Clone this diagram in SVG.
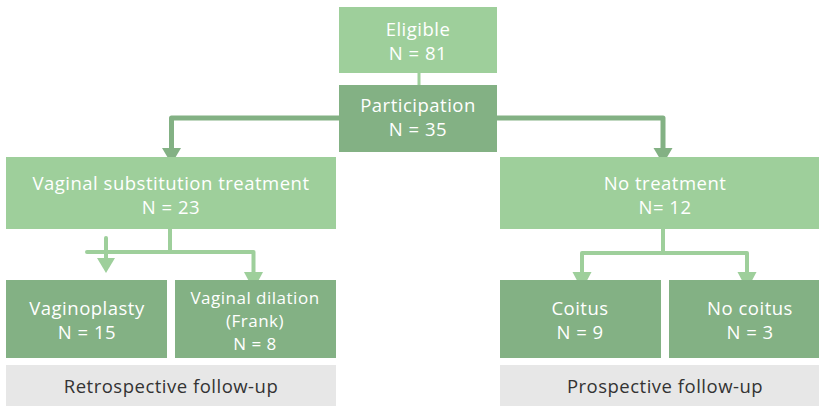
<svg xmlns="http://www.w3.org/2000/svg" width="819" height="406" viewBox="0 0 819 406">
  <style>
    .light { fill: #9ecf9b; }
    .dark { fill: #83b184; }
    .grey { fill: #e7e7e7; }
    .t { font-family: "Open Sans", "Liberation Sans", sans-serif; font-size: 18.5px; letter-spacing: 0.5px; fill: #ffffff; text-anchor: middle; }
    .t3 { font-size: 17px; }
    .g { font-family: "Open Sans", "Liberation Sans", sans-serif; font-size: 18.5px; letter-spacing: 0.5px; fill: #333333; text-anchor: middle; }
    .lnD { stroke: #83b184; stroke-width: 5; fill: none; stroke-linejoin: round; }
    .lnL { stroke: #9ecf9b; stroke-width: 4; fill: none; stroke-linejoin: round; stroke-linecap: round; }
    .ahD { fill: #83b184; }
    .ahL { fill: #9ecf9b; }
  </style>

  <!-- connectors -->
  <g id="connectors">
    <line x1="419" y1="72" x2="419" y2="86" stroke="#9ecf9b" stroke-width="3"/>
    <polyline class="lnD" points="339,118 171.5,118 171.5,150"/>
    <polygon class="ahD" points="162,148 181,148 171.5,164"/>
    <polyline class="lnD" points="497,118 663,118 663,150"/>
    <polygon class="ahD" points="653.5,148 672.5,148 663,164"/>

    <polyline class="lnL" points="170,229 170,252"/>
    <polyline class="lnL" points="87,252 253.5,252 253.5,273"/>
    <line class="lnL" x1="106" y1="238" x2="106" y2="259"/>
    <polygon class="ahL" points="97,258 115,258 106,273"/>
    <polygon class="ahL" points="244,272 263,272 253.5,290"/>

    <polyline class="lnL" points="663,229 663,253"/>
    <polyline class="lnL" points="582,273 582,253 747,253 747,273"/>
    <polygon class="ahL" points="572.5,272 591.5,272 582,290"/>
    <polygon class="ahL" points="737.5,272 756.5,272 747,290"/>
  </g>

  <g id="eligible">
    <rect class="light" x="339" y="7" width="158" height="66"/>
    <text class="t" x="418" y="36">Eligible</text>
    <text class="t" x="418" y="60">N = 81</text>
  </g>

  <g id="participation">
    <rect class="dark" x="339" y="85" width="158" height="67"/>
    <text class="t" x="418" y="112">Participation</text>
    <text class="t" x="418" y="136">N = 35</text>
  </g>

  <g id="substitution">
    <rect class="light" x="6" y="157" width="330" height="72"/>
    <text class="t" x="171" y="190">Vaginal substitution treatment</text>
    <text class="t" x="171" y="214">N = 23</text>
  </g>

  <g id="no-treatment">
    <rect class="light" x="500" y="157" width="319" height="72"/>
    <text class="t" x="665" y="190">No treatment</text>
    <text class="t" x="665" y="214">N= 12</text>
  </g>

  <g id="vaginoplasty">
    <rect class="dark" x="6" y="280" width="161" height="78"/>
    <text class="t" x="87" y="315">Vaginoplasty</text>
    <text class="t" x="87" y="339">N = 15</text>
  </g>

  <g id="dilation">
    <rect class="dark" x="175" y="280" width="161" height="78"/>
    <text class="t t3" x="255" y="304">Vaginal dilation</text>
    <text class="t t3" x="255" y="327">(Frank)</text>
    <text class="t t3" x="255" y="350">N = 8</text>
  </g>

  <g id="coitus">
    <rect class="dark" x="500" y="280" width="161" height="78"/>
    <text class="t" x="580" y="315">Coitus</text>
    <text class="t" x="580" y="339">N = 9</text>
  </g>

  <g id="no-coitus">
    <rect class="dark" x="669" y="280" width="150" height="78"/>
    <text class="t" x="750" y="315">No coitus</text>
    <text class="t" x="750" y="339">N = 3</text>
  </g>

  <g id="retrospective">
    <rect class="grey" x="6" y="365" width="330" height="41"/>
    <text class="g" x="171" y="393">Retrospective follow-up</text>
  </g>

  <g id="prospective">
    <rect class="grey" x="500" y="365" width="319" height="41"/>
    <text class="g" x="665" y="393">Prospective follow-up</text>
  </g>
</svg>
